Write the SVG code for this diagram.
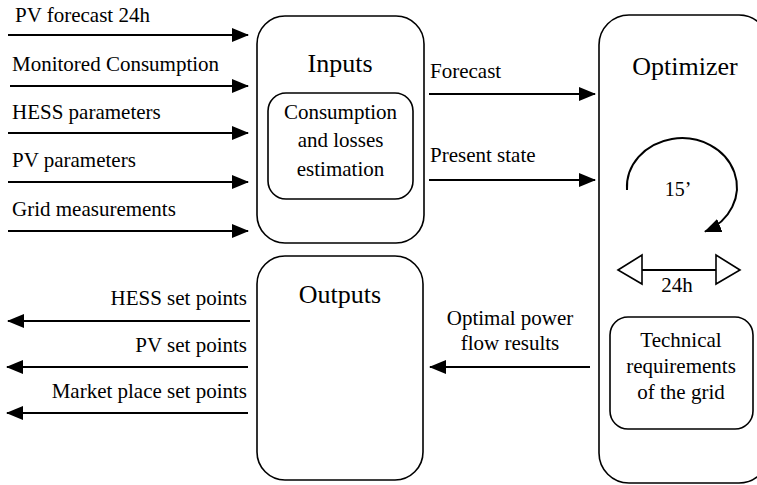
<svg xmlns="http://www.w3.org/2000/svg" width="757" height="485" viewBox="0 0 757 485">
<style>
.box{fill:none;stroke:#000;stroke-width:1.6}
.ln{fill:none;stroke:#000;stroke-width:2}
.hollow{fill:#fff;stroke:#000;stroke-width:1.6}
</style>
<defs>
<marker id="ah" markerUnits="userSpaceOnUse" markerWidth="17" markerHeight="14" viewBox="0 0 17 14" refX="16" refY="7" orient="auto">
<path d="M0,0 L17,7 L0,14 Z" fill="#000"/>
</marker>
</defs>
<rect width="757" height="485" fill="#fff"/>
<g font-size="21" fill="#000">
<g id="inputs">
<rect class="box" x="257" y="16" width="167" height="227" rx="28"/>
<text font-family="Liberation Serif" x="340" y="72" font-size="26" text-anchor="middle">Inputs</text>
</g>
<g id="estimation" text-anchor="middle">
<rect class="box" x="268" y="93" width="145" height="106" rx="18"/>
<text font-family="Liberation Serif" x="340.5" y="119">Consumption</text>
<text font-family="Liberation Serif" x="340.5" y="147">and losses</text>
<text font-family="Liberation Serif" x="340.5" y="176">estimation</text>
</g>
<g id="outputs">
<rect class="box" x="257" y="256" width="166" height="224" rx="28"/>
<text font-family="Liberation Serif" x="340" y="303" font-size="26" text-anchor="middle">Outputs</text>
</g>
<g id="optimizer" text-anchor="middle">
<rect class="box" x="599" y="15" width="170" height="468" rx="30"/>
<text font-family="Liberation Serif" x="685" y="75" font-size="26">Optimizer</text>
<text font-family="Liberation Serif" x="678" y="196" font-size="20">15’</text>
<path class="ln" d="M627,190 A55,49 0 1 1 705,231.6" marker-end="url(#ah)"/>
<line class="ln" x1="642" y1="270" x2="716" y2="270"/>
<polygon class="hollow" points="618,270 642,255 642,284"/>
<polygon class="hollow" points="740,270 716,255 716,284"/>
<text font-family="Liberation Serif" x="677" y="292">24h</text>
</g>
<g id="technical" text-anchor="middle">
<rect class="box" x="610" y="317" width="143" height="112" rx="18"/>
<text font-family="Liberation Serif" x="681" y="347">Technical</text>
<text font-family="Liberation Serif" x="681" y="373">requirements</text>
<text font-family="Liberation Serif" x="681" y="399">of the grid</text>
</g>
<g id="connectors">
<line class="ln" x1="8" y1="35" x2="248" y2="35" marker-end="url(#ah)"/>
<line class="ln" x1="10" y1="86" x2="248" y2="86" marker-end="url(#ah)"/>
<line class="ln" x1="8" y1="133" x2="248" y2="133" marker-end="url(#ah)"/>
<line class="ln" x1="8" y1="182" x2="248" y2="182" marker-end="url(#ah)"/>
<line class="ln" x1="8" y1="231" x2="248" y2="231" marker-end="url(#ah)"/>
<line class="ln" x1="429" y1="94" x2="595" y2="94" marker-end="url(#ah)"/>
<line class="ln" x1="429" y1="180" x2="595" y2="180" marker-end="url(#ah)"/>
<line class="ln" x1="590" y1="367" x2="430" y2="367" marker-end="url(#ah)"/>
<line class="ln" x1="250" y1="321" x2="8" y2="321" marker-end="url(#ah)"/>
<line class="ln" x1="248" y1="367" x2="7" y2="367" marker-end="url(#ah)"/>
<line class="ln" x1="248" y1="413" x2="7" y2="413" marker-end="url(#ah)"/>
</g>
<g id="labels">
<text font-family="Liberation Serif" x="15" y="22">PV forecast 24h</text>
<text font-family="Liberation Serif" x="12" y="71">Monitored Consumption</text>
<text font-family="Liberation Serif" x="12" y="119">HESS parameters</text>
<text font-family="Liberation Serif" x="12" y="167">PV parameters</text>
<text font-family="Liberation Serif" x="12" y="216">Grid measurements</text>
<text font-family="Liberation Serif" x="430" y="78">Forecast</text>
<text font-family="Liberation Serif" x="430" y="162">Present state</text>
<text font-family="Liberation Serif" x="510" y="325" text-anchor="middle">Optimal power</text>
<text font-family="Liberation Serif" x="510" y="350" text-anchor="middle">flow results</text>
<text font-family="Liberation Serif" x="247" y="305" text-anchor="end">HESS set points</text>
<text font-family="Liberation Serif" x="247" y="352" text-anchor="end">PV set points</text>
<text font-family="Liberation Serif" x="247" y="398" text-anchor="end">Market place set points</text>
</g>
</g>
</svg>
